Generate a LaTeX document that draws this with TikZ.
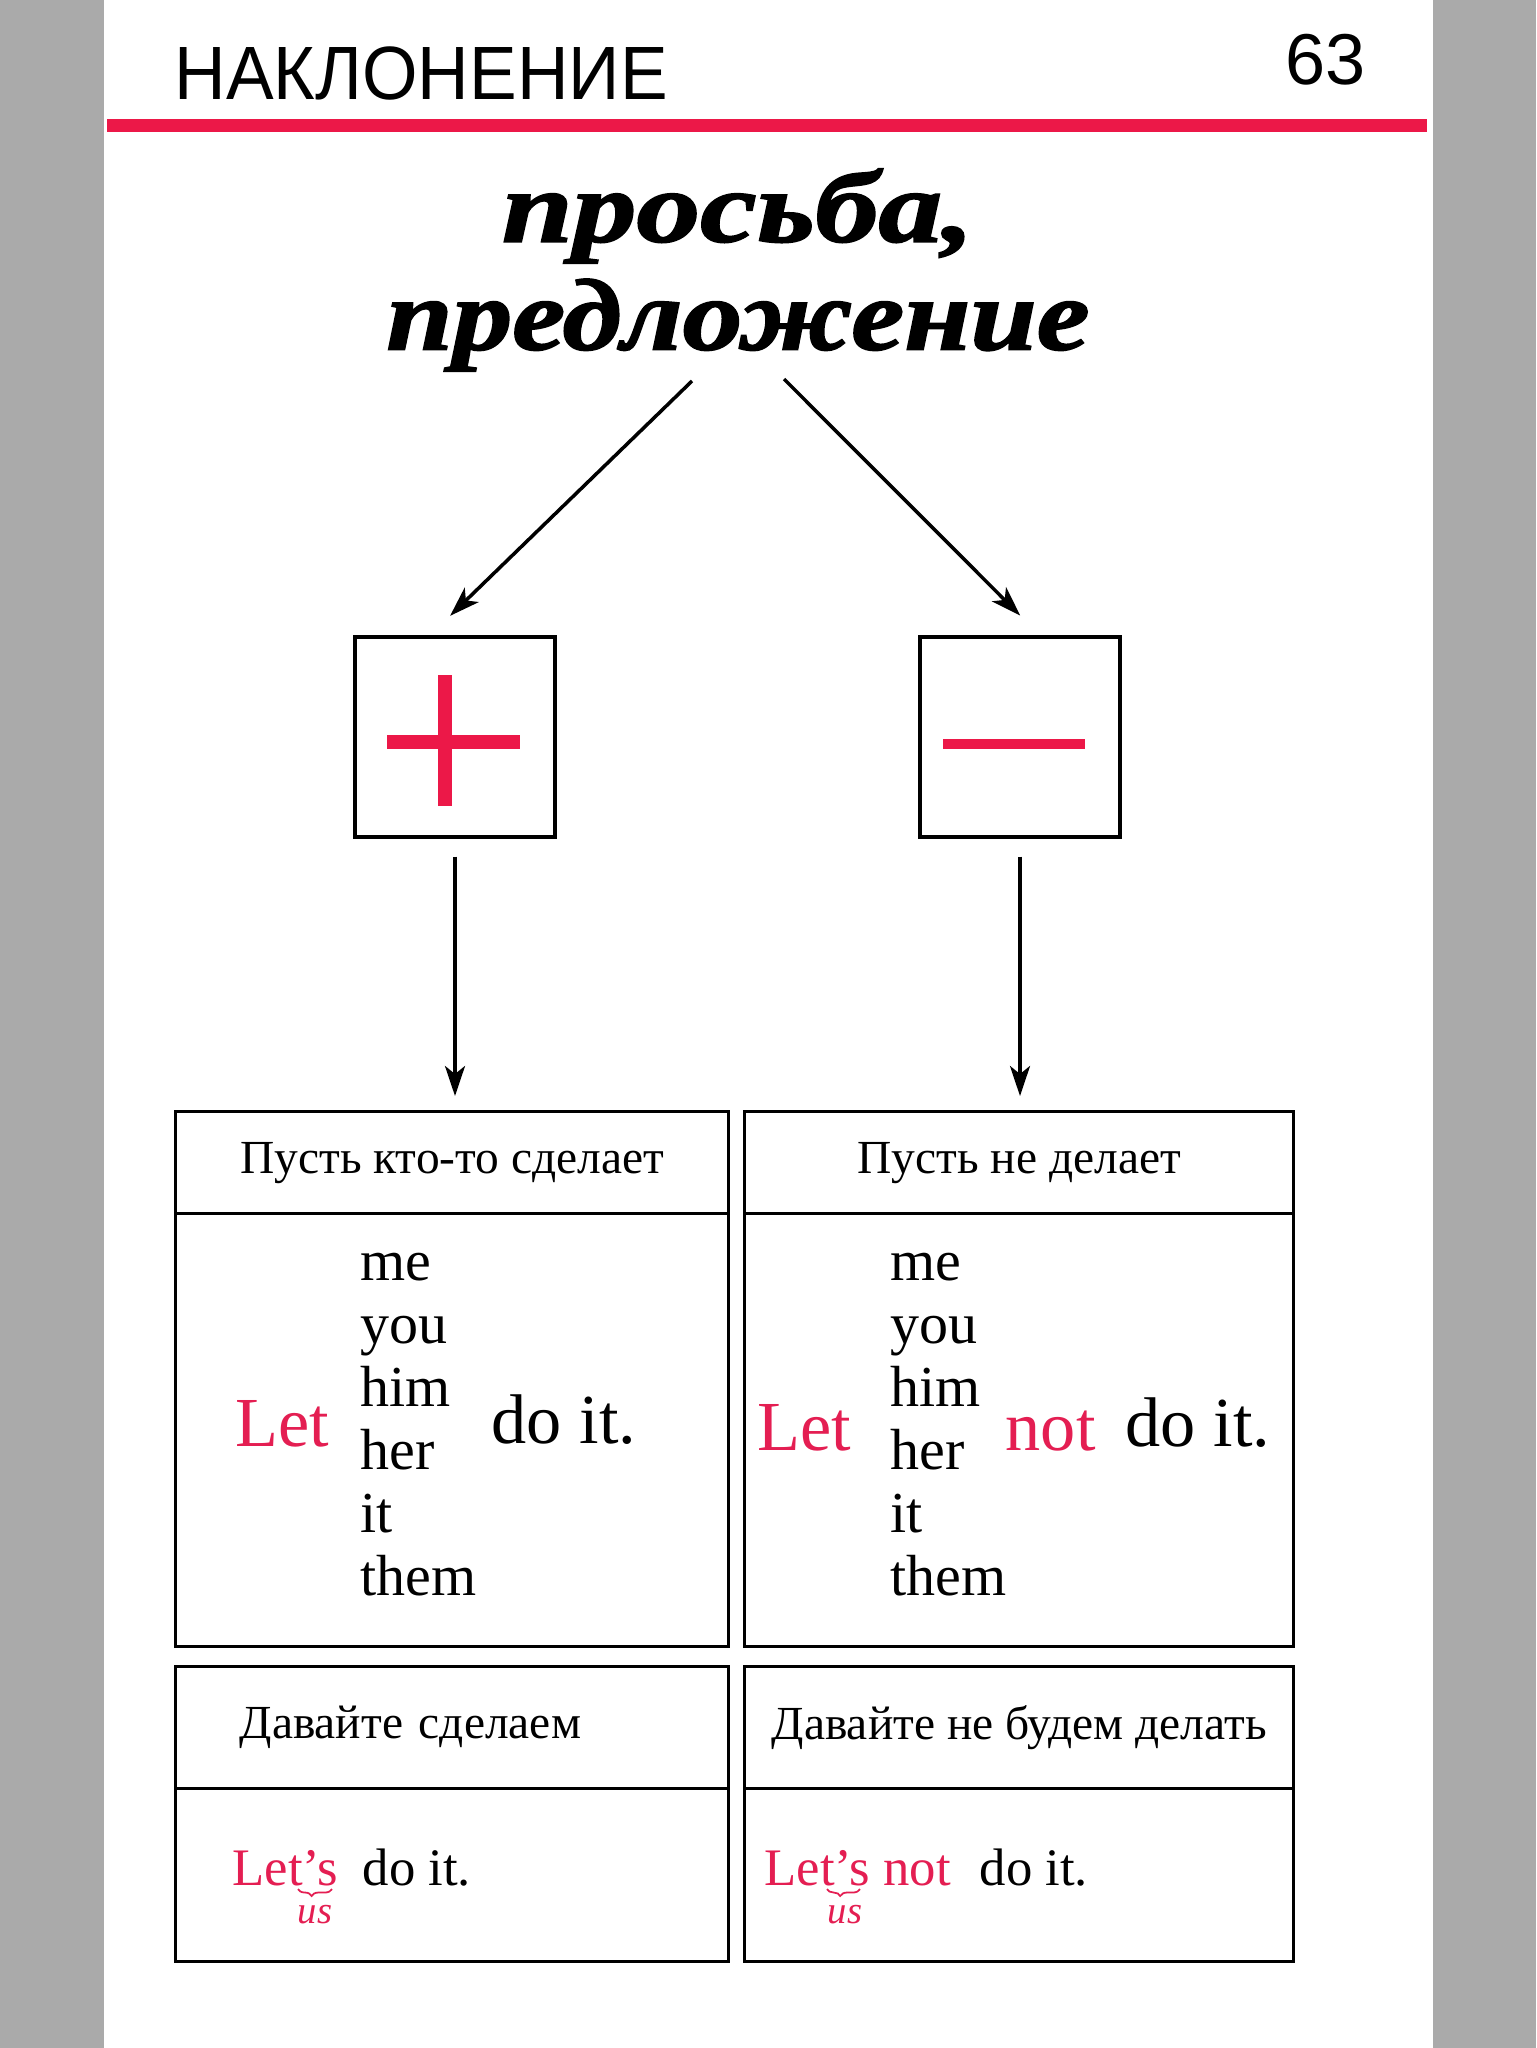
\documentclass[tikz,border=0pt]{standalone}
\usepackage{fontspec}
\setmainfont{Liberation Serif}
\newfontfamily\headfont{Liberation Sans}
\newfontfamily\titlefont{Liberation Serif Bold Italic}[FakeBold=1.6]
\usetikzlibrary{arrows.meta}
\usetikzlibrary{decorations.pathreplacing}
\definecolor{PageRed}{RGB}{236,24,72}
\definecolor{LetRed}{RGB}{228,30,82}
\definecolor{PageGray}{RGB}{170,170,170}
\tikzset{
  sign/.style={draw, line width=0.95pt, minimum size=20mm, inner sep=0pt},
  cell/.style={draw, line width=0.95pt, inner sep=0pt, anchor=north west},
  arr/.style={-{Stealth[length=3mm,width=2mm,inset=0.8mm]}, line width=1pt},
  big/.style={anchor=base west, inner sep=0pt, font=\fontsize{20}{24}\selectfont},
  pron/.style={anchor=base west, inner sep=0pt, font=\fontsize{16.5}{19}\selectfont},
  hint/.style={inner sep=0pt, font=\fontsize{13.5}{16}\selectfont},
  small/.style={anchor=base west, inner sep=0pt, font=\fontsize{15}{17}\selectfont},
  usnote/.style={anchor=base west, inner sep=0pt, LetRed, font=\fontsize{11}{13}\selectfont\itshape},
  usbrace/.style={LetRed, line width=0.5pt, decorate, decoration={brace, mirror, amplitude=0.7mm, aspect=0.4}}
}
\begin{document}
\begin{tikzpicture}[x=1mm,y=-1mm]
  \useasboundingbox (0,0) rectangle (153.6,204.8);
  % page and margins
  \fill[PageGray] (0,0) rectangle (10.4,204.8);
  \fill[PageGray] (143.3,0) rectangle (153.6,204.8);
  \fill[white] (10.4,0) rectangle (143.3,204.8);
  % running head
  \node[anchor=base west, inner sep=0pt, font=\headfont\fontsize{21.5}{24}\selectfont] (head) at (17.4,10.0) {\scalebox{0.945}[1]{НАКЛОНЕНИЕ}};
  \node[anchor=base east, inner sep=0pt, font=\headfont\fontsize{20.5}{24}\selectfont] (page) at (136.6,8.5) {63};
  \fill[PageRed] (10.7,11.9) rectangle (142.7,13.2);
  % title
  \node[anchor=south, inner sep=0pt, align=center, font=\titlefont\fontsize{29}{30.7}\selectfont] (title) at (73.8,37.2)
    {\scalebox{1.25}[1]{просьба,}\\\scalebox{1.17}[1]{предложение}};
  % plus and minus
  \node[sign] (plus) at (45.5,73.7) {};
  \node[sign] (minus) at (102.0,73.7) {};
  \fill[PageRed] (43.8,67.5) rectangle (45.2,80.6);
  \fill[PageRed] (38.7,73.5) rectangle (52.0,74.9);
  \fill[PageRed] (94.3,73.9) rectangle (108.5,74.9);
  \draw[arr, shorten >=2.8mm] ([xshift=-4.6mm,yshift=-0.9mm]title.south) -- ([xshift=-2.5mm]plus.north);
  \draw[arr, shorten >=2.8mm] ([xshift=4.6mm,yshift=-0.7mm]title.south) -- ([xshift=2mm]minus.north);
  % tables
  \node[cell, minimum width=55.3mm, minimum height=10.2mm, hint] (poshead) at (17.4,111.0) {Пусть кто-то сделает};
  \node[cell, minimum width=55.3mm, minimum height=43.3mm] (posbody) at (17.4,121.2) {};
  \node[cell, minimum width=54.9mm, minimum height=10.2mm, hint] (neghead) at (74.3,111.0) {Пусть не делает};
  \node[cell, minimum width=54.9mm, minimum height=43.3mm] (negbody) at (74.3,121.2) {};
  \node[cell, minimum width=55.3mm, minimum height=12.2mm, hint, text width=42.5mm, align=left] (ushead) at (17.4,166.5) {Давайте сделаем};
  \node[cell, minimum width=55.3mm, minimum height=17.3mm] (usbody) at (17.4,178.7) {};
  \node[cell, minimum width=54.9mm, minimum height=12.2mm, hint] (notushead) at (74.3,166.5) {Давайте не будем делать};
  \node[cell, minimum width=54.9mm, minimum height=17.3mm] (notusbody) at (74.3,178.7) {};
  \draw[arr, shorten <=1.8mm, shorten >=1.4mm] (plus.south) -- (plus.south |- poshead.north);
  \draw[arr, shorten <=1.8mm, shorten >=1.4mm] (minus.south) -- (minus.south |- neghead.north);
  % let ... do it
  \node[big, LetRed] (let1) at (23.5,144.6) {Let};
  \node[pron] (me1) at (36.0,128.0) {me};
  \node[pron] (you1) at (36.0,134.3) {you};
  \node[pron] (him1) at (36.0,140.6) {him};
  \node[pron] (her1) at (36.0,146.9) {her};
  \node[pron] (it1) at (36.0,153.2) {it};
  \node[pron] (them1) at (36.0,159.5) {them};
  \node[big] (do1) at (49.1,144.3) {do it.};
  % let ... not do it
  \node[big, LetRed] (let2) at (75.7,145.0) {Let};
  \node[pron] (me2) at (89.0,128.0) {me};
  \node[pron] (you2) at (89.0,134.3) {you};
  \node[pron] (him2) at (89.0,140.6) {him};
  \node[pron] (her2) at (89.0,146.9) {her};
  \node[pron] (it2) at (89.0,153.2) {it};
  \node[pron] (them2) at (89.0,159.5) {them};
  \node[big, LetRed] (not2) at (100.5,145.0) {not};
  \node[big] (do2) at (112.5,144.6) {do it.};
  % let's
  \node[small, LetRed] (lets1) at (23.2,188.5) {Let’s};
  \node[small] (do3) at (36.2,188.5) {do it.};
  \draw[usbrace] (29.8,188.9) -- (33.2,188.9);
  \node[usnote] (us1) at (29.7,192.3) {us};
  \node[small, LetRed] (lets2) at (76.4,188.5) {Let’s not};
  \node[small] (do4) at (97.9,188.5) {do it.};
  \draw[usbrace] (82.7,188.9) -- (86.0,188.9);
  \node[usnote] (us2) at (82.7,192.3) {us};
\end{tikzpicture}
\end{document}
